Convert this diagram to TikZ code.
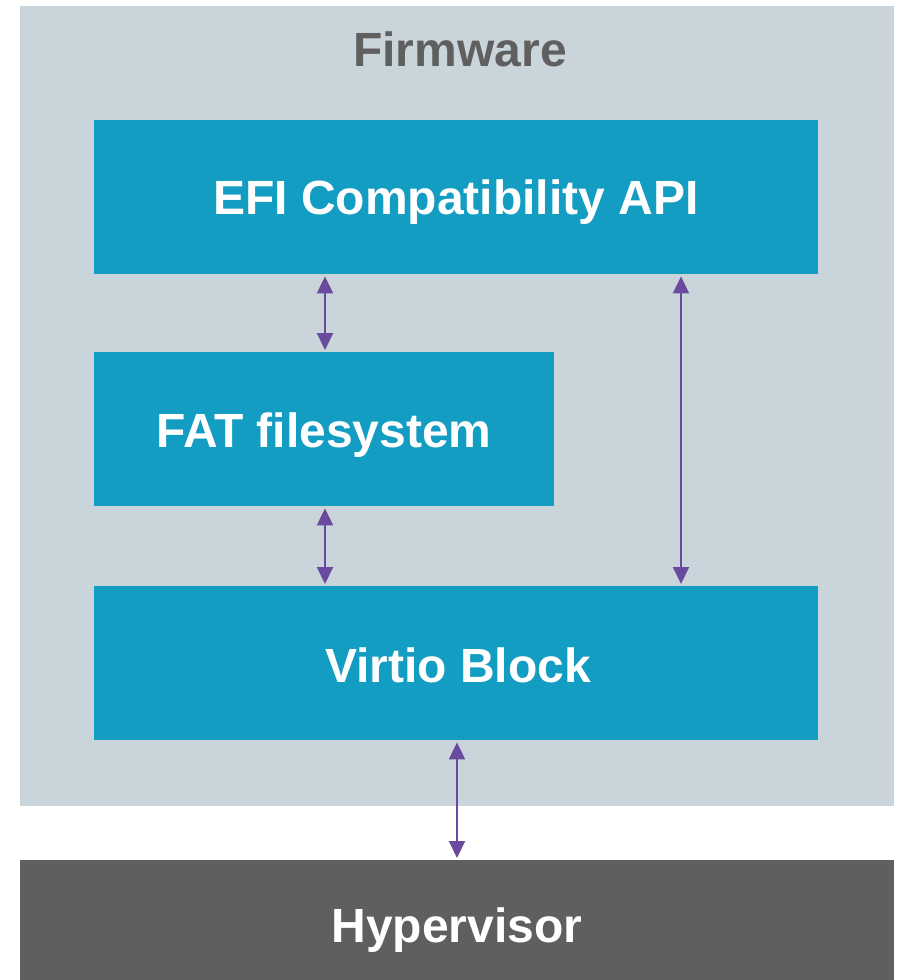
\documentclass[tikz,border=0pt]{standalone}
\usepackage{fontspec}
\setmainfont{Liberation Sans}
\usetikzlibrary{arrows.meta}
\definecolor{fwbg}{HTML}{C9D4DB}
\definecolor{boxblue}{HTML}{139DC2}
\definecolor{arrowpurple}{HTML}{6A4A9E}
\definecolor{hvgray}{HTML}{5F5F5F}
\begin{document}
\begin{tikzpicture}[x=1pt,y=-1pt,
  layer/.style={draw=none,fill=boxblue,inner sep=0pt,anchor=north west},
  label/.style={text=white,font=\fontsize{48}{52}\selectfont\bfseries,inner sep=0pt,anchor=base},
  link/.style={draw=arrowpurple,line width=2pt,{Triangle[width=16pt,length=17pt]}-{Triangle[width=16pt,length=17pt]},shorten <=2pt,shorten >=2pt}]
\useasboundingbox (0,0) rectangle (902,980);
\fill[white] (0,0) rectangle (902,980);
\node[fill=fwbg,minimum width=874pt,minimum height=800pt,inner sep=0pt,anchor=north west] (fw) at (20,6) {};
\node[label,text=hvgray] (fwt) at (460,66) {Firmware};
\node[layer,minimum width=724pt,minimum height=154pt] (efi) at (94,120) {};
\node[label] (efit) at (456,214) {EFI Compatibility API};
\node[layer,minimum width=460pt,minimum height=154pt] (fat) at (94,352) {};
\node[label] (fatt) at (324,447) {FAT filesystem};
\node[layer,minimum width=724pt,minimum height=154pt] (vb) at (94,586) {};
\node[label] (vbt) at (458,682) {Virtio Block};
\node[fill=hvgray,minimum width=874pt,minimum height=120pt,inner sep=0pt,anchor=north west] (hv) at (20,860) {};
\node[label] (hvt) at (457,942) {Hypervisor};
\coordinate (a1) at (325,274); \coordinate (a2) at (325,352);
\coordinate (b1) at (681,274); \coordinate (b2) at (681,586);
\coordinate (c1) at (325,506); \coordinate (c2) at (325,586);
\coordinate (d1) at (457,740); \coordinate (d2) at (457,860);
\draw[link] (efi.south -| a1) -- (fat.north -| a2);
\draw[link] (efi.south -| b1) -- (vb.north -| b2);
\draw[link] (fat.south -| c1) -- (vb.north -| c2);
\draw[link] (vb.south -| d1) -- (hv.north -| d2);
\end{tikzpicture}
\end{document}
